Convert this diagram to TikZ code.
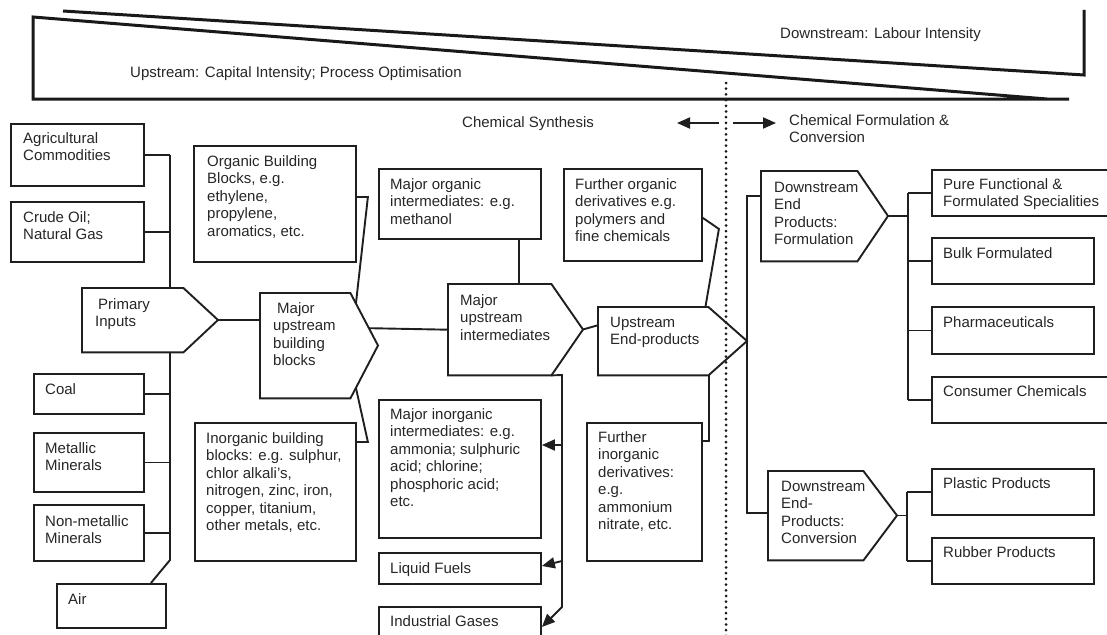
\documentclass[tikz,border=0pt]{standalone}
\usepackage{fontspec}
\setmainfont{Liberation Sans}
\usetikzlibrary{arrows.meta,calc}
\tikzset{
 ln/.style={line width=1.9pt, draw=black!88},
 box/.style={ln, draw, rectangle, inner sep=0pt, anchor=north west},
 ghost/.style={rectangle, inner sep=0pt, anchor=north west},
 txt/.style={anchor=north west, inner sep=0pt, align=left, font=\fontsize{15}{17.5}\selectfont, text=black!85},
 arr/.style={ln, -{Triangle[length=13pt,width=11pt]}},
 wedgeln/.style={line width=3pt, draw=black!90},
 dotln/.style={line width=3pt, dash pattern=on 0pt off 5.7pt, line cap=round, draw=black!90},
}
\newcommand\mkbox[5]{\node[box, minimum width={(#4)-(#2)}, minimum height={(#5)-(#3)}] (#1) at (#2,#3) {};}
\newcommand\mkpent[6]{\node[ghost, minimum width={(#4)-(#2)}, minimum height={(#5)-(#3)}] (#1) at (#2,#3) {};
 \draw[ln, line join=miter] (#1.north west) -- (#1.north east) -- (#6,{(#3+#5)/2}) coordinate (#1-tip) -- (#1.south east) -- (#1.south west) -- cycle;}
\newcommand\mktext[4]{\node[txt] (#1) at (#2,{#3-12.25}) {\strut #4};}
\begin{document}
\begin{tikzpicture}[x=1pt, y=-1pt]
\useasboundingbox (0,0) rectangle (1107,634);
\clip (0,0) rectangle (1107,634);

% top wedge
\coordinate (w1) at (63,11); \coordinate (w2) at (1084,75); \coordinate (w3) at (1084,10);
\draw[wedgeln, line join=miter] (w1) -- (w2) -- (w3);
\coordinate (v1) at (1047,99); \coordinate (v2) at (33,17); \coordinate (v3) at (33,99); \coordinate (v4) at (1069,99);
\draw[wedgeln, line join=miter] (v1) -- (v2) -- (v3) -- (v4);
\mktext{down-t}{780}{38}{Downstream: Labour Intensity}
\mktext{up-t}{130}{77}{Upstream: Capital Intensity; Process Optimisation}

% dotted divider and headings
\coordinate (dtop) at (726,83); \coordinate (dbot) at (726,640);
\draw[dotln] (dtop) -- (dbot);
\mktext{syn-t}{462}{127}{Chemical Synthesis}
\mktext{form-t}{789}{125}{Chemical Formulation \&\\Conversion}
\coordinate (la1) at (719,123); \coordinate (la2) at (677,123);
\coordinate (ra1) at (733,123); \coordinate (ra2) at (776,123);
\draw[arr] (la1) -- (la2);
\draw[arr] (ra1) -- (ra2);

% left column
\mkbox{agri}{10}{123}{143}{185}
\mktext{agri-t}{23}{143}{Agricultural\\Commodities}
\mkbox{crude}{10}{201}{143}{261}
\mktext{crude-t}{23}{222}{Crude Oil;\\Natural Gas}
\mkbox{coal}{33}{373}{143}{413}
\mktext{coal-t}{45}{394}{Coal}
\mkbox{metal}{33}{432}{143}{491}
\mktext{metal-t}{45}{453}{Metallic\\Minerals}
\mkbox{nonmet}{33}{504}{143}{560}
\mktext{nonmet-t}{45}{526}{Non-metallic\\Minerals}
\mkbox{air}{56}{583}{165}{627}
\mktext{air-t}{68}{604}{Air}

\mkpent{pi}{82}{288}{183}{352}{218}
\mktext{pi-t}{95}{309}{\hspace{3pt}Primary\\Inputs}

% building blocks
\mkpent{mubb}{260}{293}{350}{398}{378}
\mktext{mubb-t}{273}{313}{\hspace{4pt}Major\\upstream\\building\\blocks}
\mkbox{obb}{193}{145}{355}{261}
\mktext{obb-t}{207}{166}{Organic Building\\Blocks, e.g.\\ethylene,\\propylene,\\aromatics, etc.}
\mkbox{ibb}{194}{422}{355}{560}
\mktext{ibb-t}{206}{443}{Inorganic building\\blocks: e.g. sulphur,\\chlor alkali’s,\\nitrogen, zinc, iron,\\copper, titanium,\\other metals, etc.}

% intermediates
\mkpent{mui}{448}{284}{551}{375}{583}
\mktext{mui-t}{460}{305}{Major\\upstream\\intermediates}
\mkbox{moi}{378}{168}{540}{238}
\mktext{moi-t}{390}{189}{Major organic\\intermediates: e.g.\\methanol}
\mkbox{mii}{378}{399}{540}{537}
\mktext{mii-t}{390}{419}{Major inorganic\\intermediates: e.g.\\ammonia; sulphuric\\acid; chlorine;\\phosphoric acid;\\etc.}
\mkbox{lf}{378}{552}{540}{583}
\mktext{lf-t}{390}{573}{Liquid Fuels}
\mkbox{ig}{378}{606}{540}{650}
\mktext{ig-t}{390}{626}{Industrial Gases}

% upstream end products
\mkpent{uep}{598}{307}{708}{375}{747}
\mktext{uep-t}{610}{327}{Upstream\\End-products}
\mkbox{fod}{563}{168}{701}{260}
\mktext{fod-t}{575}{189}{Further organic\\derivatives e.g.\\polymers and\\fine chemicals}
\mkbox{fid}{586}{422}{701}{560}
\mktext{fid-t}{598}{442}{Further\\inorganic\\derivatives:\\e.g.\\ammonium\\nitrate, etc.}

% downstream
\mkpent{depf}{761}{171}{857}{261}{888}
\mktext{depf-t}{774}{192}{Downstream\\End\\Products:\\Formulation}
\mkpent{depc}{768}{471}{863}{560}{897}
\mktext{depc-t}{781}{491}{Downstream\\End-\\Products:\\Conversion}

\mkbox{pure}{931}{169}{1115}{215}
\mktext{pure-t}{943}{189}{Pure Functional \&\\Formulated Specialities}
\mkbox{bulk}{931}{237}{1093}{283}
\mktext{bulk-t}{943}{258}{Bulk Formulated}
\mkbox{pharma}{931}{306}{1093}{353}
\mktext{pharma-t}{943}{327}{Pharmaceuticals}
\mkbox{cons}{931}{376}{1115}{422}
\mktext{cons-t}{943}{396}{Consumer Chemicals}
\mkbox{plastic}{931}{468}{1093}{514}
\mktext{plastic-t}{943}{488}{Plastic Products}
\mkbox{rubber}{931}{537}{1093}{583}
\mktext{rubber-t}{943}{557}{Rubber Products}

% ---- connectors ----
\coordinate (busL) at (170,0);
\coordinate (busLend) at (170,560);
\draw[ln] (agri.east) -- (agri.east -| busL);
\draw[ln] (crude.east) -- (crude.east -| busL);
\draw[ln] (busL |- agri.east) -- (busL |- pi.north);
\draw[ln] (busL |- pi.south) -- (busLend) -- ([xshift=-16pt]air.north east);
\draw[ln] (coal.east) -- (coal.east -| busL);
\draw[ln] (metal.east) -- (metal.east -| busL);
\draw[ln] (nonmet.east) -- (nonmet.east -| busL);

\draw[ln] (pi-tip) -- (pi-tip -| mubb.west);
\draw[ln] ([yshift=7pt]obb.east) -- ++(11,0) -- ($(mubb.north east)!0.2!(mubb-tip)$);
\draw[ln] ([yshift=-20pt]ibb.north east) -- ++(11,0) -- ($(mubb.south east)!0.2!(mubb-tip)$);
\draw[ln] ($(mubb.north east)!0.67!(mubb-tip)$) -- (mui.west);

\coordinate (moib) at ([xshift=-23pt]moi.south east);
\draw[ln] (moib) -- (moib |- mui.north);
\draw[ln] (mui-tip) -- ([yshift=16pt]uep.west);
\draw[ln] ([yshift=-3pt]fod.east) -- ++(16,11) -- ([xshift=-3pt]uep.north east);
\coordinate (fidc) at ([xshift=6pt,yshift=-19pt]fid.north east);
\draw[ln] ([yshift=-19pt]fid.north east) -- (fidc) -- (fidc |- uep.south);

\coordinate (busM) at (562,375);
\coordinate (busMend) at (562,607);
\draw[arr] (mui.south east) -- (busM) -- (busMend) -- ([yshift=-21pt]ig.north east);
\coordinate (mii-in) at ([yshift=-46pt]mii.north east);
\draw[arr] (mii-in -| busM) -- (mii-in);
\coordinate (lf-in) at ([yshift=-14pt]lf.north east);
\coordinate (lf-src) at (562,561);
\draw[arr] (lf-src) -- (lf-in);

\coordinate (busRt) at (747,196);
\coordinate (busRb) at (747,513);
\draw[ln] (busRt -| depf.west) -- (busRt) -- (busRb) -- (busRb -| depc.west);

\coordinate (busF) at (908,0);
\draw[ln] (depf-tip) -- (depf-tip -| busF);
\draw[ln] (busF |- pure.west) -- (busF |- cons.west);
\foreach \b in {pure,bulk,pharma,cons} \draw[ln] (busF |- \b.west) -- (\b.west);
\coordinate (busC) at (907,0);
\draw[ln] (depc-tip) -- (depc-tip -| busC);
\draw[ln] (busC |- plastic.west) -- (busC |- rubber.west);
\foreach \b in {plastic,rubber} \draw[ln] (busC |- \b.west) -- (\b.west);
\end{tikzpicture}
\end{document}
